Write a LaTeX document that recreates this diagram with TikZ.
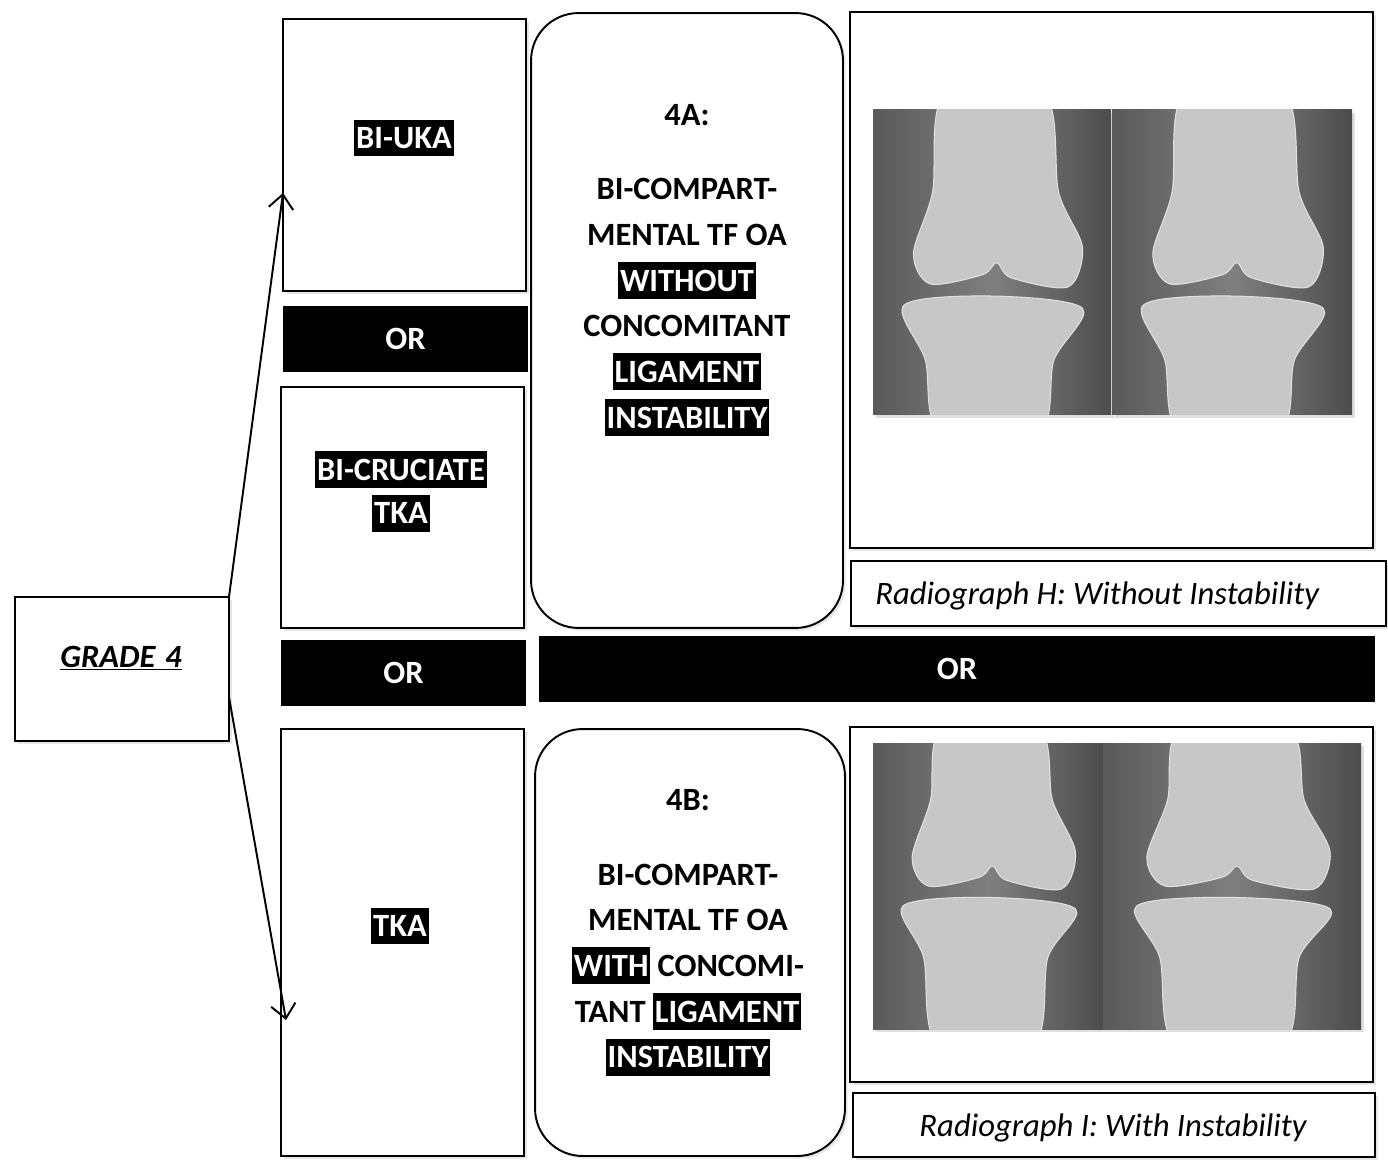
\documentclass[tikz,border=0pt]{standalone}
\usepackage{fontspec}
\setmainfont{Carlito}
\usetikzlibrary{shapes.geometric, arrows.meta, shadows}
\newcommand{\hl}[1]{{\setlength{\fboxsep}{1pt}\colorbox{black}{\textcolor{white}{\rule[-3.5pt]{0pt}{19pt}#1}}}}
\tikzstyle{box} = [rectangle, draw, line width=1.1pt, fill=white, inner sep=0pt, outer sep=0pt, drop shadow={shadow xshift=1.5pt, shadow yshift=-1.5pt, opacity=0.2}]
\tikzstyle{roundbox} = [box, rounded corners=0.95cm]
\tikzstyle{orbar} = [rectangle, fill=black, text=white, inner sep=0pt, outer sep=0pt, font=\fontsize{18.5}{26}\selectfont\bfseries]
\tikzstyle{boxtext} = [align=center, inner sep=0pt, font=\fontsize{18.5}{26}\selectfont\bfseries]
\tikzstyle{captext} = [inner sep=0pt, font=\fontsize{18.6}{22}\selectfont\itshape]
\tikzstyle{xray} = [draw=none, shade, left color=black!65, right color=black!70, middle color=black!50, drop shadow={shadow xshift=1.5pt, shadow yshift=-1.5pt, opacity=0.25}]
\tikzstyle{bone} = [fill=black!22, draw=black!12, line width=0.6pt]
\tikzstyle{arrow} = [line width=1.1pt, -{Straight Barb[length=8pt, width=14pt]}]

\begin{document}
\begin{tikzpicture}[x=0.02cm, y=-0.02cm]
    \useasboundingbox (0,0) rectangle (1388,1168);

    % grade
    \node [box, minimum width=4.28cm, minimum height=2.88cm] at (122,669) (grade) {};
    \node [boxtext, anchor=base, font=\fontsize{18.5}{26}\selectfont\bfseries\itshape] at (121,667) (gradetxt) {\underline{GRADE\hspace{0.3em}4}};

    % treatment column
    \node [box, minimum width=4.86cm, minimum height=5.44cm] at (404.5,155) (biuka) {};
    \node [boxtext, anchor=base] at (404,148.5) (biukatxt) {\hl{BI-UKA}};
    \node [orbar, minimum width=4.9cm, minimum height=1.32cm] at (405.5,339) (or1) {OR};
    \node [box, minimum width=4.86cm, minimum height=4.82cm] at (402.5,507.5) (bicru) {};
    \node [boxtext] at (401,491.5) (bicrutxt) {\hl{BI-CRUCIATE}\\[-0.04cm]\hl{TKA}};
    \node [orbar, minimum width=4.9cm, minimum height=1.32cm] at (403.5,673) (or2) {OR};
    \node [box, minimum width=4.86cm, minimum height=8.54cm] at (402.5,942.5) (tka) {};
    \node [boxtext, anchor=base] at (400,936.5) (tkatxt) {\hl{TKA}};

    % sub-grades
    \node [roundbox, minimum width=6.24cm, minimum height=12.3cm] at (687,320.5) (gradeA) {};
    \node [boxtext] at (687,270) (gradeAtxt) {4A:\\[0.58cm]BI-COMPART-\\MENTAL TF OA\\\hl{WITHOUT}\\CONCOMITANT\\\hl{LIGAMENT}\\\hl{INSTABILITY}};
    \node [orbar, minimum width=16.72cm, minimum height=1.32cm] at (957,669) (or3) {OR};
    \node [roundbox, minimum width=6.2cm, minimum height=8.54cm] at (690,942.5) (gradeB) {};
    \node [boxtext] at (688,932.5) (gradeBtxt) {4B:\\[0.58cm]BI-COMPART-\\MENTAL TF OA\\\hl{WITH} CONCOMI-\\TANT \hl{LIGAMENT}\\\hl{INSTABILITY}};

    % radiographs
    \node [box, minimum width=10.46cm, minimum height=10.72cm] at (1111.5,280) (radH) {};
    \node [box, minimum width=10.7cm, minimum height=1.3cm] at (1118.5,593.5) (capH) {};
    \node [captext, anchor=base west] at (875,604) (capHtxt) {Radiograph H: Without Instability};
    \node [box, minimum width=10.46cm, minimum height=7.1cm] at (1111.5,904.5) (radI) {};
    \node [box, minimum width=10.44cm, minimum height=1.28cm] at (1114,1125) (capI) {};
    \node [captext, anchor=base] at (1113,1136) (capItxt) {Radiograph I: With Instability};

    \foreach \px/\py/\pw/\ph/\jv in {873/110/238/305/0.57, 1112/110/240/305/0.57, 873/743/230/286/0.5, 1103/743/258/286/0.5} {
        \begin{scope}[shift={(\px,\py)}, xscale=\pw, yscale=\ph]
            \path [xray] (0,0) rectangle (1,1);
            \clip (0,0) rectangle (1,1);
            \fill [bone] plot [smooth cycle] coordinates {(0.3,-0.05) (0.25,\jv-0.3) (0.17,\jv-0.1) (0.24,\jv) (0.46,\jv-0.03) (0.52,\jv-0.07) (0.58,\jv-0.02) (0.82,\jv+0.01) (0.88,\jv-0.12) (0.78,\jv-0.3) (0.72,-0.05)};
            \fill [bone] plot [smooth cycle] coordinates {(0.13,\jv+0.07) (0.5,\jv+0.04) (0.88,\jv+0.08) (0.76,\jv+0.25) (0.7,1.05) (0.28,1.05) (0.22,\jv+0.25)};
        \end{scope}
    }

    % arrows
    \coordinate (ukain) at (283,193);
    \coordinate (tkain) at (286,1020);
    \draw [arrow] (grade.north east) -- (ukain);
    \draw [arrow] ([yshift=-0.56cm]grade.east) -- (tkain);
\end{tikzpicture}
\end{document}
